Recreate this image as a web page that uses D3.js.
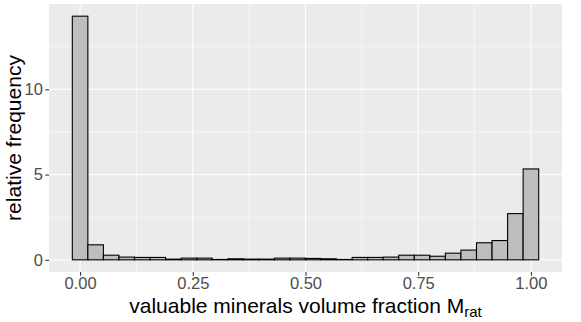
<!DOCTYPE html>
<html>
<head>
<meta charset="utf-8">
<script src="https://cdn.jsdelivr.net/npm/d3@7"></script>
<style>
  body { margin: 0; background: #fff; }
  text { font-family: "Liberation Sans", Arial, sans-serif; }
</style>
</head>
<body>
<script>
// 30 bins, centred on 0, 1/29, ..., 1 (ggplot default)
let binCount = 30;
let freq = [14.29, 0.88, 0.27, 0.16, 0.14, 0.14, 0.04, 0.10, 0.10, 0.02,
            0.06, 0.04, 0.04, 0.10, 0.10, 0.08, 0.06, 0.02, 0.14, 0.14,
            0.16, 0.27, 0.27, 0.21, 0.39, 0.57, 1.00, 1.13, 2.71, 5.33];
let xTicks = [0, 0.25, 0.5, 0.75, 1];
let xMinor = [0.125, 0.375, 0.625, 0.875];
let yTicks = [0, 5, 10];
let yMinor = [2.5, 7.5, 12.5];

let binWidth = 1 / (binCount - 1);
let data = freq.map(function(f, i) {
	return {x0: i * binWidth - binWidth / 2, x1: i * binWidth + binWidth / 2, y: f};
});

let W = 581, H = 322;
let margin = {top: 4, right: 19, bottom: 50, left: 49};
let width = W - margin.left - margin.right,
	height = H - margin.top - margin.bottom;

let xMin = -binWidth / 2, xMax = 1 + binWidth / 2, xPad = (xMax - xMin) * 0.05;
let yMax = d3.max(freq), yPad = yMax * 0.05;

let xScale = d3.scaleLinear().domain([xMin - xPad, xMax + xPad]).range([0, width]);
let yScale = d3.scaleLinear().domain([-yPad, yMax + yPad]).range([height, 0]);

let svg = d3.select("body").append("svg")
	.attr("width", W).attr("height", H);

let g = svg.append("g")
	.attr("transform", "translate(" + margin.left + "," + margin.top + ")");

// panel background
g.append("rect").attr("width", width).attr("height", height).attr("fill", "#ebebeb");

// minor grid
g.selectAll(".xminor").data(xMinor).enter().append("line")
	.attr("x1", d => xScale(d)).attr("x2", d => xScale(d))
	.attr("y1", 0).attr("y2", height)
	.attr("stroke", "#fff").attr("stroke-width", 0.55);
g.selectAll(".yminor").data(yMinor).enter().append("line")
	.attr("x1", 0).attr("x2", width)
	.attr("y1", d => yScale(d)).attr("y2", d => yScale(d))
	.attr("stroke", "#fff").attr("stroke-width", 0.55);

// major grid
g.selectAll(".xmajor").data(xTicks).enter().append("line")
	.attr("x1", d => xScale(d)).attr("x2", d => xScale(d))
	.attr("y1", 0).attr("y2", height)
	.attr("stroke", "#fff").attr("stroke-width", 1.1);
g.selectAll(".ymajor").data(yTicks).enter().append("line")
	.attr("x1", 0).attr("x2", width)
	.attr("y1", d => yScale(d)).attr("y2", d => yScale(d))
	.attr("stroke", "#fff").attr("stroke-width", 1.1);

// bars
g.selectAll(".bar").data(data).enter().append("rect")
	.attr("x", d => xScale(d.x0))
	.attr("width", d => xScale(d.x1) - xScale(d.x0))
	.attr("y", d => yScale(d.y))
	.attr("height", d => yScale(0) - yScale(d.y))
	.attr("fill", "#bebebe")
	.attr("stroke", "#000")
	.attr("stroke-width", 1.1);

// axes
let xAxis = d3.axisBottom(xScale).tickValues(xTicks).tickFormat(d3.format(".2f")).tickSize(3.7).tickPadding(1.5);
let yAxis = d3.axisLeft(yScale).tickValues(yTicks).tickFormat(d3.format("d")).tickSize(3.7).tickPadding(2.5);

let xAxisEl = g.append("g").attr("transform", "translate(0," + height + ")").call(xAxis);
let yAxisEl = g.append("g").call(yAxis);

[xAxisEl, yAxisEl].forEach(function(a) {
	a.select(".domain").remove();
	a.selectAll(".tick line").attr("stroke", "#333").attr("stroke-width", 1.1);
	a.selectAll(".tick text").attr("fill", "#4d4d4d").style("font-size", "16.5px")
		.style("font-family", "'Liberation Sans', Arial, sans-serif");
});

// axis titles
svg.append("text")
	.attr("transform", "translate(" + 21 + "," + (margin.top + height / 2) + ") rotate(-90)")
	.attr("text-anchor", "middle")
	.style("font-size", "21px")
	.text("relative frequency");

let xt = svg.append("text")
	.attr("x", margin.left + width / 2)
	.attr("y", 312.5)
	.attr("text-anchor", "middle")
	.style("font-size", "21px");
xt.append("tspan").text("valuable minerals volume fraction M");
xt.append("tspan").attr("dy", 4.5).style("font-size", "15px").text("rat");
</script>
</body>
</html>
